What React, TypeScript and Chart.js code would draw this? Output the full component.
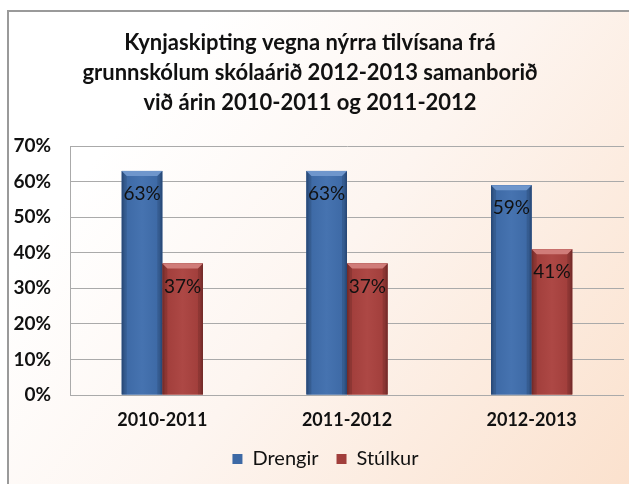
import React, { useEffect, useRef } from "react";
import { Chart, registerables } from "chart.js";

Chart.register(...registerables);

const categories = ["2010-2011", "2011-2012", "2012-2013"];
const seriesNames = ["Drengir", "Stúlkur"];
const drengir = [63, 63, 59];
const stulkur = [37, 37, 41];
const yMin = 0;
const yMax = 70;
const yStep = 10;
const titleLines = [
  "Kynjaskipting vegna nýrra tilvísana frá",
  "grunnskólum skólaárið 2012-2013 samanborið",
  "við árin 2010-2011 og 2011-2012",
];

const FONT = "Lato, 'Open Sans', sans-serif";

const palettes = [
  { base: "#3d69a5", dark: "#2b4f82", light: "#4673b0", top: "#6f96cc" },
  { base: "#a13e3b", dark: "#7e2f2d", light: "#ad4845", top: "#d07c79" },
];

const bgPlugin = {
  id: "bgPlugin",
  afterLayout(chart: any) {
    // nudge the legend to the right, as in the reference
    if (chart.legend) {
      chart.legend.left += 10;
      chart.legend.right += 10;
    }
  },
  beforeDraw(chart: any) {
    const { ctx, width, height } = chart;
    ctx.save();
    ctx.fillStyle = "#ffffff";
    ctx.fillRect(0, 0, width, height);
    const g = ctx.createLinearGradient(140, 100, 640, 480);
    g.addColorStop(0, "#ffffff");
    g.addColorStop(0.4, "#fdf5f0");
    g.addColorStop(1, "#fbe1cd");
    ctx.fillStyle = g;
    ctx.fillRect(7, 10, width - 7, height - 10);
    ctx.strokeStyle = "#9a9a9a";
    ctx.lineWidth = 2;
    ctx.beginPath();
    ctx.moveTo(8, height);
    ctx.lineTo(8, 11);
    ctx.lineTo(width, 11);
    ctx.stroke();
    // title
    ctx.fillStyle = "#111111";
    ctx.font = `bold 22px ${FONT}`;
    ctx.textAlign = "center";
    ctx.textBaseline = "middle";
    titleLines.forEach((line, i) => {
      ctx.fillText(line, 310, 43 + i * 30);
    });
    ctx.restore();
  },
};

const barPlugin = {
  id: "barPlugin",
  afterDatasetsDraw(chart: any) {
    const { ctx } = chart;
    chart.data.datasets.forEach((ds: any, di: number) => {
      const meta = chart.getDatasetMeta(di);
      const pal = palettes[di];
      meta.data.forEach((el: any, idx: number) => {
        const { x, y, base, width } = el.getProps(["x", "y", "base", "width"], true);
        const l = x - width / 2;
        const r = x + width / 2;
        ctx.save();
        const g = ctx.createLinearGradient(l, 0, r, 0);
        g.addColorStop(0, pal.dark);
        g.addColorStop(0.08, pal.base);
        g.addColorStop(0.5, pal.light);
        g.addColorStop(0.92, pal.base);
        g.addColorStop(1, pal.dark);
        ctx.fillStyle = g;
        ctx.fillRect(l, y, width, base - y);
        // top bevel
        const b = 5;
        ctx.fillStyle = pal.top;
        ctx.beginPath();
        ctx.moveTo(l, y);
        ctx.lineTo(r, y);
        ctx.lineTo(r - b, y + b);
        ctx.lineTo(l + b, y + b);
        ctx.closePath();
        ctx.fill();
        // side shading
        ctx.fillStyle = "rgba(0,0,0,0.12)";
        ctx.beginPath();
        ctx.moveTo(l, y);
        ctx.lineTo(l + b, y + b);
        ctx.lineTo(l + b, base);
        ctx.lineTo(l, base);
        ctx.closePath();
        ctx.fill();
        ctx.beginPath();
        ctx.moveTo(r, y);
        ctx.lineTo(r - b, y + b);
        ctx.lineTo(r - b, base);
        ctx.lineTo(r, base);
        ctx.closePath();
        ctx.fill();
        // label
        const v = ds.data[idx];
        ctx.fillStyle = "#111111";
        ctx.font = `19px ${FONT}`;
        ctx.textAlign = "center";
        ctx.textBaseline = "middle";
        ctx.fillText(`${v}%`, x, y + 23);
        ctx.restore();
      });
    });
  },
};

export default function App() {
  const ref = useRef<HTMLCanvasElement | null>(null);

  useEffect(() => {
    if (!ref.current) return;
    const chart = new Chart(ref.current, {
      type: "bar",
      data: {
        labels: categories,
        datasets: [
          {
            label: seriesNames[0],
            data: drengir,
            backgroundColor: palettes[0].base,
            borderColor: palettes[0].dark,
            borderWidth: 0,
            barPercentage: 1,
            categoryPercentage: 0.44,
          },
          {
            label: seriesNames[1],
            data: stulkur,
            backgroundColor: palettes[1].base,
            borderColor: palettes[1].dark,
            borderWidth: 0,
            barPercentage: 1,
            categoryPercentage: 0.44,
          },
        ],
      },
      options: {
        animation: false,
        responsive: false,
        maintainAspectRatio: false,
        layout: { padding: { left: 7, right: 5, top: 146, bottom: 5 } },
        scales: {
          x: {
            grid: { display: false, drawTicks: false },
            border: { display: false },
            ticks: {
              color: "#111111",
              font: { family: FONT, size: 18, weight: "bold" },
              padding: 14,
            },
            afterFit(scale: any) {
              scale.height = 36;
            },
          },
          y: {
            min: yMin,
            max: yMax,
            grid: { color: "#aaaaaa", lineWidth: 1, drawTicks: false },
            border: { display: true, color: "#aaaaaa", width: 1 },
            ticks: {
              stepSize: yStep,
              color: "#111111",
              font: { family: FONT, size: 19, weight: "bold" },
              padding: 19,
              callback: (v: any) => `${v}%`,
            },
            afterFit(scale: any) {
              scale.width = 63;
            },
          },
        },
        plugins: {
          title: { display: false },
          tooltip: { enabled: false },
          legend: {
            display: true,
            position: "bottom",
            labels: {
              color: "#111111",
              font: { family: FONT, size: 20 },
              boxWidth: 10,
              boxHeight: 10,
              padding: 18,
            },
          },
        },
      },
      plugins: [bgPlugin, barPlugin],
    });
    return () => chart.destroy();
  }, []);

  return (
    <div style={{ position: "absolute", left: 0, top: 0, width: 629, height: 484 }}>
      <canvas ref={ref} width={629} height={484} style={{ display: "block" }} />
    </div>
  );
}
